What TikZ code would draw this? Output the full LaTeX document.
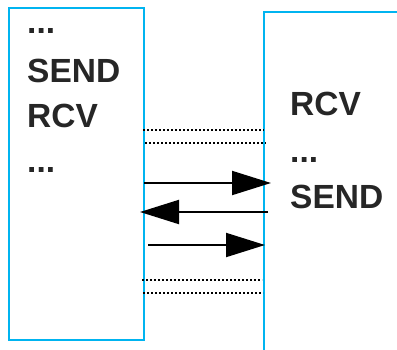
\documentclass[tikz,border=0pt]{standalone}
\usepackage{fontspec}
\setmainfont{Liberation Sans}
\usetikzlibrary{arrows.meta}
\definecolor{hostBlue}{RGB}{0,180,240}
\definecolor{cmdGray}{RGB}{38,38,38}

\begin{document}
\begin{tikzpicture}[x=1pt, y=-1pt,
        host/.style={draw=hostBlue, line width=2pt},
        msg/.style={line width=2pt, -{Triangle[length=39pt, width=24pt]}},
        idle/.style={line width=1.6pt, dash pattern=on 1.6pt off 2.4pt},
        cmd/.style={anchor=base west, inner sep=0pt, text=cmdGray,
            font=\fontsize{33.5}{40}\selectfont\bfseries}]
        \clip (0,0) rectangle (397,349);

        % left host
        \draw[host] (9,8) rectangle (144,340);
        \node[cmd] (ldotsA) at (27,33) {...};
        \node[cmd] (lsend) at (27,82) {SEND};
        \node[cmd] (lrcv) at (27,127) {RCV};
        \node[cmd] (ldotsB) at (27,172) {...};

        % right host
        \draw[host] (263.5,11.5) rectangle (420,370);
        \node[cmd] (rrcv) at (290,115) {RCV};
        \node[cmd] (rdots) at (290,162) {...};
        \node[cmd] (rsend) at (290,208) {SEND};

        % end points on the two hosts
        \coordinate (la) at (143,130);   \coordinate (ra) at (264,130);
        \coordinate (lb) at (145,143);   \coordinate (rb) at (266,143);
        \coordinate (lc) at (144,183);   \coordinate (rc) at (271,183);
        \coordinate (ld) at (140,212);   \coordinate (rd) at (268,212);
        \coordinate (le) at (148,245);   \coordinate (re) at (265,245);
        \coordinate (lf) at (142,280);   \coordinate (rf) at (262,280);
        \coordinate (lg) at (143,293);   \coordinate (rg) at (263,293);

        % idle time
        \draw[idle] (la) -- (ra);
        \draw[idle] (lb) -- (rb);

        % messages
        \draw[msg] (lc) -- (rc);
        \draw[msg] (rd) -- (ld);
        \draw[msg] (le) -- (re);

        % idle time
        \draw[idle] (lf) -- (rf);
        \draw[idle] (lg) -- (rg);
\end{tikzpicture}
\end{document}
